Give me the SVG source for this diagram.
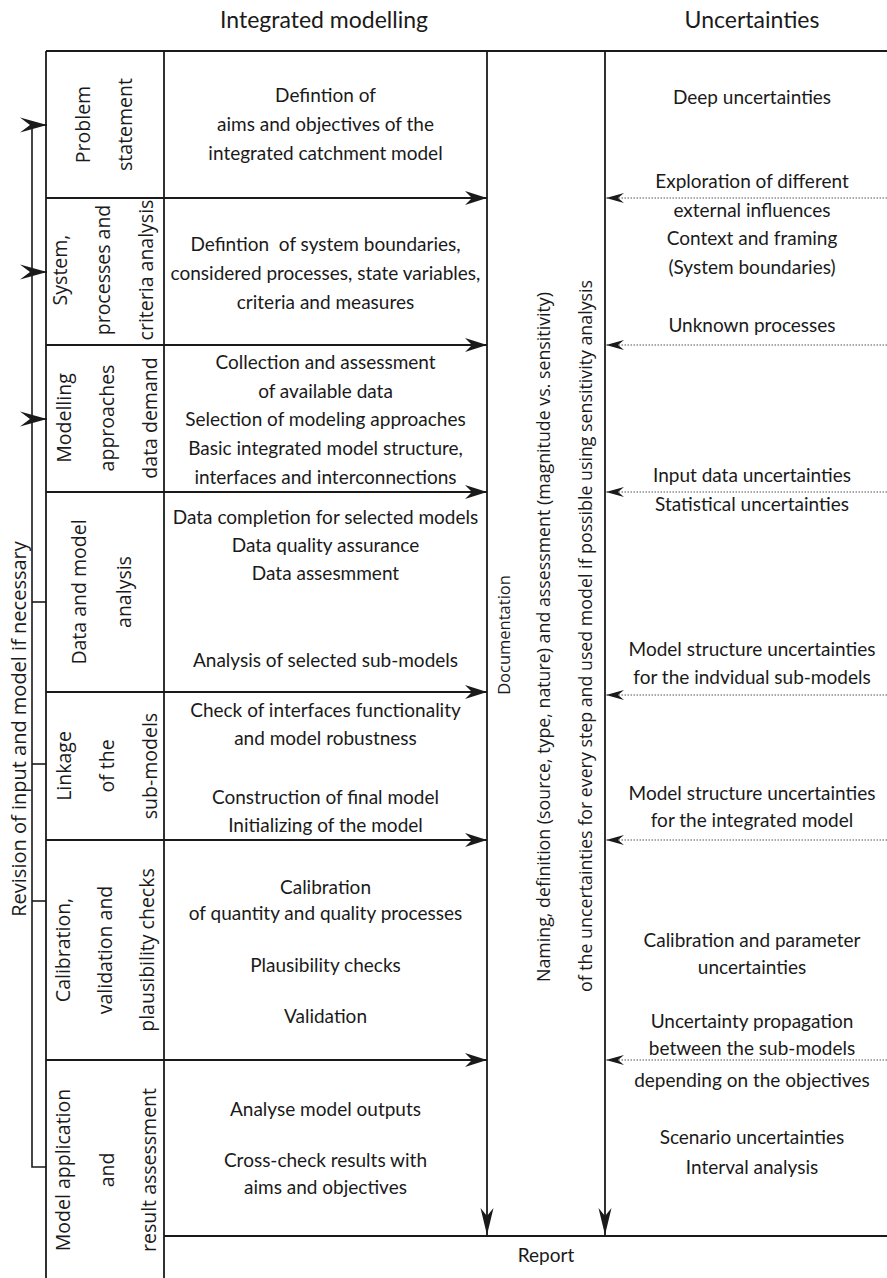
<svg xmlns="http://www.w3.org/2000/svg" width="887" height="1278" viewBox="0 0 887 1278">
<style>
.t{font-family:Lato,"Liberation Sans",sans-serif;font-size:19px;fill:#1a1a1a;text-anchor:middle}
.h{font-size:23px}
.r{font-family:"Open Sans","DejaVu Sans",sans-serif;font-size:19.5px;fill:#1a1a1a;text-anchor:middle}
.m{font-family:"Open Sans","DejaVu Sans",sans-serif;font-size:17.8px;fill:#1a1a1a;text-anchor:end}
.ln{stroke:#1a1a1a;stroke-width:1.8;fill:none}
.fb{stroke:#1a1a1a;stroke-width:1.6;fill:none}
.dot{stroke:#555;stroke-width:1.2;stroke-dasharray:1.5 1.5;fill:none}
</style>
<defs>
<marker id="ah" markerUnits="userSpaceOnUse" overflow="visible" orient="auto" refX="0" refY="0"><path d="M0,0 L-22,-7 L-15,0 L-22,7 Z" fill="#1a1a1a"/></marker>
<marker id="fh" markerUnits="userSpaceOnUse" overflow="visible" orient="auto" refX="0" refY="0"><path d="M0,0 L-27,-7.5 L-17,0 L-27,7.5 Z" fill="#1a1a1a"/></marker>
<marker id="dh" markerUnits="userSpaceOnUse" overflow="visible" orient="auto" refX="0" refY="0"><path d="M0,0 L-18,-5 L-12,0 L-18,5 Z" fill="#1a1a1a"/></marker>
<marker id="vh" markerUnits="userSpaceOnUse" overflow="visible" orient="auto" refX="0" refY="0"><path d="M0,0 L-27,-6.5 L-19,0 L-27,6.5 Z" fill="#1a1a1a"/></marker>
</defs>
<rect width="887" height="1278" fill="#fff"/>

<g id="headers">
<text class="t h" x="324" y="28">Integrated modelling</text>
<text class="t h" x="752" y="28">Uncertainties</text>
</g>

<g id="frame">
<line class="ln" x1="46" y1="51" x2="887" y2="51"/>
<line class="ln" x1="46" y1="51" x2="46" y2="1278"/>
<line class="ln" x1="164" y1="51" x2="164" y2="1278"/>
<line class="ln" x1="164" y1="1236" x2="887" y2="1236"/>
</g>

<g id="connectors">
<line class="ln" x1="46" y1="198" x2="487" y2="198" marker-end="url(#ah)"/>
<line class="ln" x1="46" y1="345" x2="487" y2="345" marker-end="url(#ah)"/>
<line class="ln" x1="46" y1="492" x2="487" y2="492" marker-end="url(#ah)"/>
<line class="ln" x1="46" y1="692" x2="487" y2="692" marker-end="url(#ah)"/>
<line class="ln" x1="46" y1="840" x2="487" y2="840" marker-end="url(#ah)"/>
<line class="ln" x1="46" y1="1060" x2="487" y2="1060" marker-end="url(#ah)"/>
<line class="ln" x1="487" y1="51" x2="487" y2="1235" marker-end="url(#vh)"/>
<line class="ln" x1="605" y1="51" x2="605" y2="1235" marker-end="url(#vh)"/>
<line class="dot" x1="887" y1="198" x2="606" y2="198" marker-end="url(#dh)"/>
<line class="dot" x1="887" y1="345" x2="606" y2="345" marker-end="url(#dh)"/>
<line class="dot" x1="887" y1="492" x2="606" y2="492" marker-end="url(#dh)"/>
<line class="dot" x1="887" y1="695" x2="606" y2="695" marker-end="url(#dh)"/>
<line class="dot" x1="887" y1="840" x2="606" y2="840" marker-end="url(#dh)"/>
<line class="dot" x1="887" y1="1060" x2="606" y2="1060" marker-end="url(#dh)"/>
<path class="fb" d="M46,1167 L32,1167 L32,125"/>
<line class="fb" x1="32" y1="125" x2="47" y2="125" marker-end="url(#fh)"/>
<line class="fb" x1="32" y1="272" x2="47" y2="272" marker-end="url(#fh)"/>
<line class="fb" x1="32" y1="419" x2="47" y2="419" marker-end="url(#fh)"/>
<line class="fb" x1="32" y1="602" x2="46" y2="602"/>
<line class="fb" x1="32" y1="764" x2="46" y2="764"/>
<line class="fb" x1="32" y1="901" x2="46" y2="901"/>
<text class="r" transform="translate(26,729) rotate(-90)" style="font-size:20px">Revision of input and model if necessary</text>
</g>

<g id="step1">
<text class="r" transform="translate(90,124.5) rotate(-90)">Problem</text>
<text class="r" transform="translate(132,124.5) rotate(-90)">statement</text>
<text class="t" x="325.5" y="102">Defintion of</text>
<text class="t" x="325.5" y="131">aims and objectives of the</text>
<text class="t" x="325.5" y="160">integrated catchment model</text>
</g>

<g id="step2">
<text class="r" transform="translate(67,270) rotate(-90)">System,</text>
<text class="r" transform="translate(110,270) rotate(-90)">processes and</text>
<text class="r" transform="translate(153,270) rotate(-90)">criteria analysis</text>
<text class="t" x="325.5" y="251" style="white-space:pre">Defintion  of system boundaries,</text>
<text class="t" x="325.5" y="280">considered processes, state variables,</text>
<text class="t" x="325.5" y="309">criteria and measures</text>
</g>

<g id="step3">
<text class="r" transform="translate(71,418) rotate(-90)">Modelling</text>
<text class="r" transform="translate(114,418) rotate(-90)">approaches</text>
<text class="r" transform="translate(157,418) rotate(-90)">data demand</text>
<text class="t" x="325.5" y="369">Collection and assessment</text>
<text class="t" x="325.5" y="398">of available data</text>
<text class="t" x="325.5" y="426">Selection of modeling approaches</text>
<text class="t" x="325.5" y="455">Basic integrated model structure,</text>
<text class="t" x="325.5" y="484">interfaces and interconnections</text>
</g>

<g id="step4">
<text class="r" transform="translate(86,592) rotate(-90)">Data and model</text>
<text class="r" transform="translate(131,592) rotate(-90)">analysis</text>
<text class="t" x="325.5" y="524">Data completion for selected models</text>
<text class="t" x="325.5" y="552">Data quality assurance</text>
<text class="t" x="325.5" y="580">Data assesmment</text>
<text class="t" x="325.5" y="667">Analysis of selected sub-models</text>
</g>

<g id="step5">
<text class="r" transform="translate(71,766) rotate(-90)">Linkage</text>
<text class="r" transform="translate(114,766) rotate(-90)">of the</text>
<text class="r" transform="translate(157,766) rotate(-90)">sub-models</text>
<text class="t" x="325.5" y="717">Check of interfaces functionality</text>
<text class="t" x="325.5" y="745">and model robustness</text>
<text class="t" x="325.5" y="804">Construction of final model</text>
<text class="t" x="325.5" y="832">Initializing of the model</text>
</g>

<g id="step6">
<text class="r" transform="translate(70,950) rotate(-90)">Calibration,</text>
<text class="r" transform="translate(112,950) rotate(-90)">validation and</text>
<text class="r" transform="translate(154,950) rotate(-90)">plausibility checks</text>
<text class="t" x="325.5" y="894">Calibration</text>
<text class="t" x="325.5" y="920">of quantity and quality processes</text>
<text class="t" x="325.5" y="972">Plausibility checks</text>
<text class="t" x="325.5" y="1023">Validation</text>
</g>

<g id="step7">
<text class="r" transform="translate(70,1170) rotate(-90)">Model application</text>
<text class="r" transform="translate(114,1170) rotate(-90)">and</text>
<text class="r" transform="translate(156,1170) rotate(-90)">result assessment</text>
<text class="t" x="325.5" y="1116">Analyse model outputs</text>
<text class="t" x="325.5" y="1167">Cross-check results with</text>
<text class="t" x="325.5" y="1194">aims and objectives</text>
</g>

<g id="documentation">
<text class="r" transform="translate(510,635) rotate(-90)" style="font-size:16.5px">Documentation</text>
<text class="m" transform="translate(550,292) rotate(-90)">Naming, definition (source, type, nature) and assessment (magnitude vs. sensitivity)</text>
<text class="m" transform="translate(592,280) rotate(-90)">of the uncertainties for every step and used model if possible using sensitivity analysis</text>
</g>

<g id="uncertainties">
<text class="t" x="752" y="104">Deep uncertainties</text>
<text class="t" x="752" y="188">Exploration of different</text>
<text class="t" x="752" y="217">external influences</text>
<text class="t" x="752" y="245">Context and framing</text>
<text class="t" x="752" y="274">(System boundaries)</text>
<text class="t" x="752" y="332">Unknown processes</text>
<text class="t" x="752" y="482">Input data uncertainties</text>
<text class="t" x="752" y="511">Statistical uncertainties</text>
<text class="t" x="752" y="656">Model structure uncertainties</text>
<text class="t" x="752" y="684">for the indvidual sub-models</text>
<text class="t" x="752" y="800">Model structure uncertainties</text>
<text class="t" x="752" y="827">for the integrated model</text>
<text class="t" x="752" y="947">Calibration and parameter</text>
<text class="t" x="752" y="974">uncertainties</text>
<text class="t" x="752" y="1028">Uncertainty propagation</text>
<text class="t" x="752" y="1055">between the sub-models</text>
<text class="t" x="752" y="1087">depending on the objectives</text>
<text class="t" x="752" y="1144">Scenario uncertainties</text>
<text class="t" x="752" y="1174">Interval analysis</text>
</g>

<g id="report">
<text class="t" x="546" y="1262">Report</text>
</g>
</svg>
